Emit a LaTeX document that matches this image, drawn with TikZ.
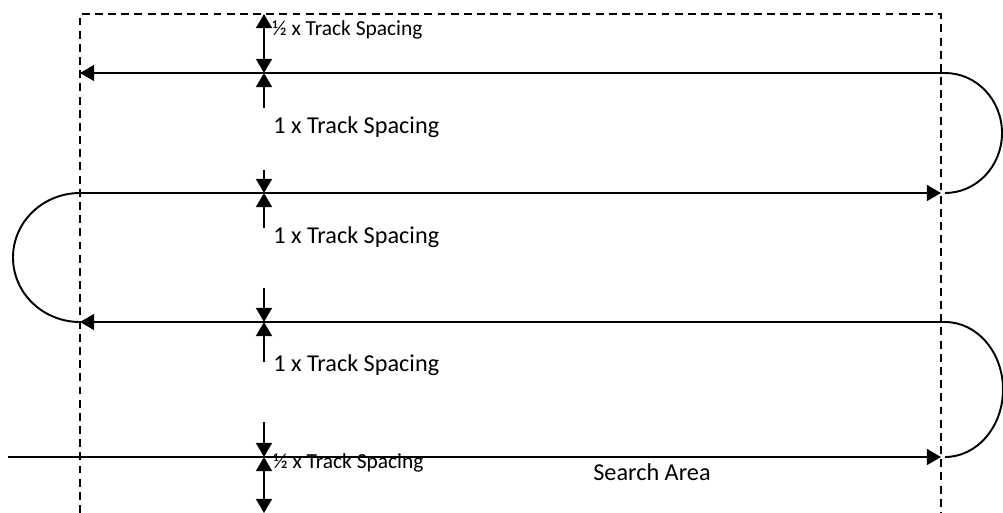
\documentclass[tikz,border=0pt]{standalone}
\usepackage{fontspec}
\setmainfont{Carlito}
\usetikzlibrary{arrows.meta}

\begin{document}
\begin{tikzpicture}[
    x=0.02cm, y=-0.02cm,
    border/.style={line width=1.1pt, dash pattern=on 4.5pt off 3pt},
    track/.style={line width=1.1pt, -{Triangle[length=8pt, width=9pt]}},
    turn/.style={line width=1.1pt},
    gap/.style={line width=1.1pt, -{Triangle[length=8pt, width=9pt]}},
    both/.style={line width=1.1pt, {Triangle[length=8pt, width=9pt]}-{Triangle[length=8pt, width=9pt]}},
    big/.style={anchor=west, inner sep=0pt, font=\fontsize{13.8}{15}\selectfont},
    small/.style={anchor=west, inner sep=0pt, font=\fontsize{12.2}{14}\selectfont}
]
\useasboundingbox (0,0) rectangle (1003,513);

% Search area (open at the bottom)
\draw[border] (80,513) -- (80,14) -- (941,14) -- (941,513);

% Track ends
\coordinate (t1r) at (945,73);  \coordinate (t1l) at (80,73);
\coordinate (t2l) at (80,193);  \coordinate (t2r) at (941,193);
\coordinate (t3r) at (945,322); \coordinate (t3l) at (80,322);
\coordinate (t4l) at (8,457);   \coordinate (t4r) at (941,457);

% Tracks
\draw[track] (t1r) -- (t1l);
\draw[track] (t2l) -- (t2r);
\draw[track] (t3r) -- (t3l);
\draw[track] (t4l) -- (t4r);

% Turns
\draw[turn] (t1r) arc[start angle=-90, end angle=90, x radius=57, y radius=60];
\draw[turn] (t2l) arc[start angle=270, end angle=90, x radius=67, y radius=64.5];
\draw[turn] (t3r) arc[start angle=-90, end angle=90, x radius=58, y radius=67.5];

% Spacing marks
\coordinate (m0) at (264,14);
\coordinate (m1) at (264,73);
\coordinate (m2) at (264,193);
\coordinate (m3) at (264,322);
\coordinate (m4) at (264,457);
\coordinate (m5) at (264,513);

\draw[both] (m0) -- (m1);
\draw[gap] (264,108) -- (m1);
\draw[gap] (264,170) -- (m2);
\draw[gap] (264,228) -- (m2);
\draw[gap] (264,288) -- (m3);
\draw[gap] (264,362) -- (m3);
\draw[gap] (264,422) -- (m4);
\draw[both] (m4) -- (m5);

% Labels
\node[small] (halftop) at (272,30) {½ x Track Spacing};
\node[big] (onea) at (273,127) {1 x Track Spacing};
\node[big] (oneb) at (273,237) {1 x Track Spacing};
\node[big] (onec) at (273,365) {1 x Track Spacing};
\node[small] (halfbot) at (273,463) {½ x Track Spacing};
\node[big] (area) at (593,472) {Search Area};

\end{tikzpicture}
\end{document}
